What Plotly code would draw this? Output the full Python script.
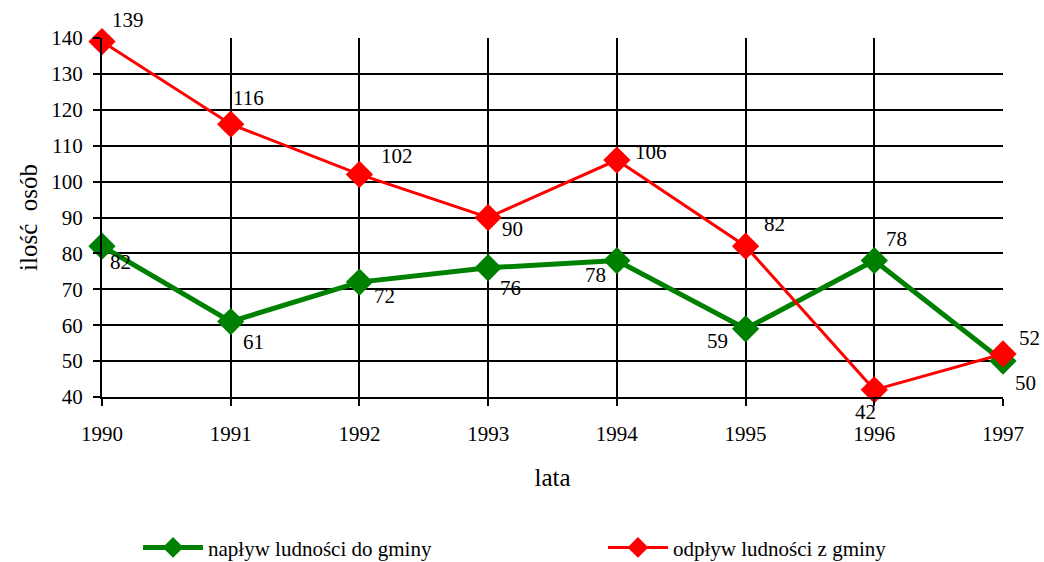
import plotly.graph_objects as go

years = [1990, 1991, 1992, 1993, 1994, 1995, 1996, 1997]
naplyw = [82, 61, 72, 76, 78, 59, 78, 50]
odplyw = [139, 116, 102, 90, 106, 82, 42, 52]

# label placement offsets (pixels) per point: (xshift, yshift, xanchor, yanchor)
naplyw_pos = [(6, -2, "left", "top"), (10, -6, "left", "top"), (13, 0, "left", "top"),
              (10, -6, "left", "top"), (-9, 0, "right", "top"), (-16, 2, "right", "top"),
              (10, 8, "left", "bottom"), (10, -8, "left", "top")]
odplyw_pos = [(8, 8, "left", "bottom"), (0, 12, "left", "bottom"), (20, 4, "left", "bottom"),
              (12, 3, "left", "top"), (16, 8, "left", "middle"), (16, 8, "left", "bottom"),
              (-21, -8, "left", "top"), (14, 2, "left", "bottom")]

FONT = "Liberation Serif"
GREEN = "#008000"
RED = "#FF0000"
FS = 21

fig = go.Figure()
fig.add_trace(go.Scatter(x=years, y=naplyw, mode="lines+markers",
                         name="napływ ludności do gminy", legend="legend",
                         line=dict(color=GREEN, width=5),
                         marker=dict(symbol="diamond", size=21, color=GREEN),
                         cliponaxis=False))
fig.add_trace(go.Scatter(x=years, y=odplyw, mode="lines+markers",
                         name="odpływ ludności z gminy", legend="legend2",
                         line=dict(color=RED, width=3),
                         marker=dict(symbol="diamond", size=21, color=RED),
                         cliponaxis=False))

annotations = []
for x, y, (dx, dy, xa, ya) in zip(years, naplyw, naplyw_pos):
    annotations.append(dict(x=x, y=y, text=str(y), showarrow=False, xshift=dx, yshift=dy,
                            xanchor=xa, yanchor=ya, font=dict(family=FONT, size=FS, color="black")))
for x, y, (dx, dy, xa, ya) in zip(years, odplyw, odplyw_pos):
    annotations.append(dict(x=x, y=y, text=str(y), showarrow=False, xshift=dx, yshift=dy,
                            xanchor=xa, yanchor=ya, font=dict(family=FONT, size=FS, color="black")))

leg_common = dict(orientation="h", yanchor="middle", y=-0.42, xanchor="left",
                  font=dict(family=FONT, size=FS), itemwidth=60, bgcolor="rgba(0,0,0,0)")

fig.update_layout(
    width=1044, height=562,
    margin=dict(l=102, r=41, t=38, b=165, autoexpand=False),
    paper_bgcolor="white", plot_bgcolor="white",
    font=dict(family=FONT, size=FS, color="black"),
    showlegend=True,
    legend=dict(x=0.04, **leg_common),
    legend2=dict(x=0.556, **leg_common),
    annotations=annotations,
)
fig.update_xaxes(range=[1990, 1997], tickmode="array", tickvals=years,
                 ticktext=[str(v) for v in years], automargin=False,
                 showgrid=True, gridcolor="black", gridwidth=2,
                 showline=True, linecolor="black", linewidth=2,
                 ticks="outside", ticklen=7, tickwidth=2, tickcolor="black",
                 ticklabelstandoff=10,
                 zeroline=False, title=dict(text="lata", standoff=23),
                 tickfont=dict(family=FONT, size=FS))
fig.update_yaxes(range=[40, 140], dtick=10, automargin=False,
                 showgrid=True, gridcolor="black", gridwidth=2,
                 showline=True, linecolor="black", linewidth=2,
                 ticks="outside", ticklen=7, tickwidth=2, tickcolor="black",
                 ticklabelstandoff=6,
                 zeroline=False, title=dict(text="ilość  osób", standoff=7),
                 tickfont=dict(family=FONT, size=FS))

fig.write_html("out.html", config={"displayModeBar": False},
               post_script="document.body.style.margin='0px';document.body.style.overflow='hidden';")
